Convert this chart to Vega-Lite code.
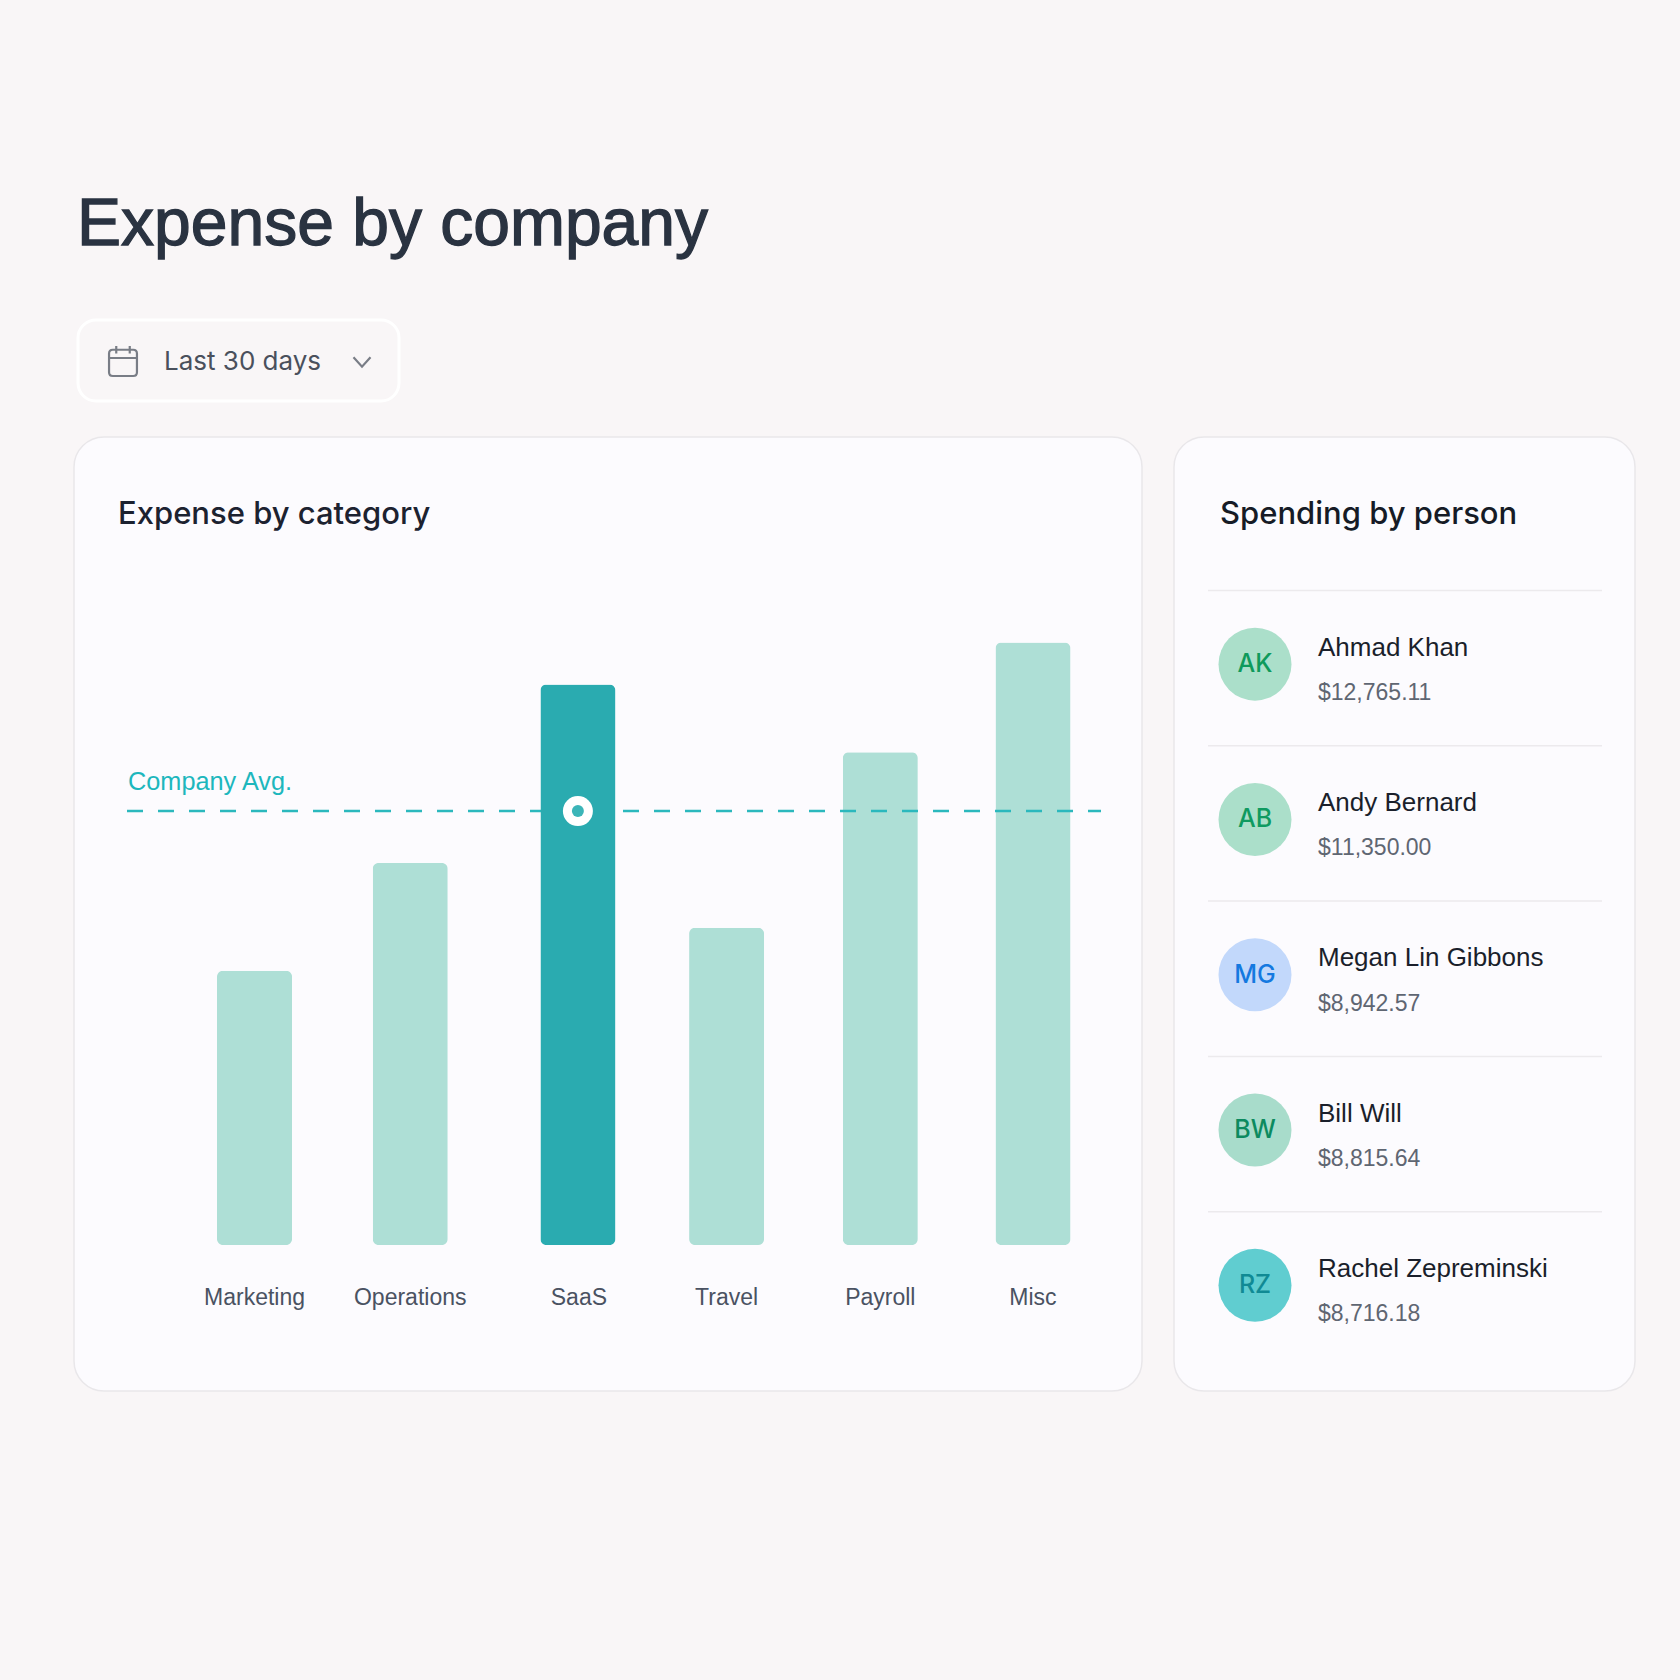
{
"$schema":"https://vega.github.io/schema/vega-lite/v6.json",
"background":"#f9f6f7",
"padding":{"left":73,"top":0,"right":45,"bottom":291},
"spacing":33,
"config":{"font":"Liberation Sans","axis":{"grid":false}},
"datasets":{
 "categories":[
  {"category":"Marketing","expense":27.5},
  {"category":"Operations","expense":38.3},
  {"category":"SaaS","expense":56.2},
  {"category":"Travel","expense":31.8},
  {"category":"Payroll","expense":49.4},
  {"category":"Misc","expense":60.4}
 ],
 "average":[{"label":"Company Avg.","category":"SaaS","expense":43.5}],
 "people":[
  {"person":"Ahmad Khan","initials":"AK","amount":"$12,765.11"},
  {"person":"Andy Bernard","initials":"AB","amount":"$11,350.00"},
  {"person":"Megan Lin Gibbons","initials":"MG","amount":"$8,942.57"},
  {"person":"Bill Will","initials":"BW","amount":"$8,815.64"},
  {"person":"Rachel Zepreminski","initials":"RZ","amount":"$8,716.18"}
 ]
},
"vconcat":[
 {
  "width":1562,"height":402,
  "view":{"stroke":null,"fill":null},
  "data":{"values":[{"heading":"Expense by company","filter":"Last 30 days"}]},
  "encoding":{
   "x":{"datum":0,"type":"quantitative","scale":{"domain":[0,1562],"range":[0,1562],"nice":false},"axis":null},
   "y":{"datum":0,"type":"quantitative","scale":{"domain":[0,402],"range":[0,402],"nice":false},"axis":null}
  },
  "layer":[
   {"mark":{"type":"text","align":"left","baseline":"alphabetic","fontSize":66,"stroke":"#2a3341","strokeWidth":1.3,"color":"#2a3341"},
    "encoding":{"x":{"datum":3},"y":{"datum":245},"text":{"field":"heading"}}},
   {"mark":{"type":"rect","fill":"#f9f6f7","stroke":"#ffffff","strokeWidth":3,"cornerRadius":18},
    "encoding":{"x":{"datum":4},"x2":{"datum":325},"y":{"datum":320},"y2":{"datum":401}}},
   {"mark":{"type":"point","filled":false,"stroke":"#444b57","strokeWidth":2.2,"size":900,"shape":"M-0.93 -0.5 Q-0.93 -0.75 -0.68 -0.75 H0.68 Q0.93 -0.75 0.93 -0.5 V0.75 Q0.93 1 0.68 1 H-0.68 Q-0.93 1 -0.93 0.75 Z M-0.93 -0.2 H0.93 M-0.45 -1 V-0.5 M0.45 -1 V-0.5"},
    "encoding":{"x":{"datum":49},"y":{"datum":361}}},
   {"mark":{"type":"text","align":"left","baseline":"alphabetic","font":"Inter","fontSize":26,"color":"#4a505c"},
    "encoding":{"x":{"datum":90},"y":{"datum":370},"text":{"field":"filter"}}},
   {"mark":{"type":"point","filled":false,"stroke":"#444b57","strokeWidth":2.2,"size":289,"shape":"M-1 -0.55 L0 0.55 L1 -0.55"},
    "encoding":{"x":{"datum":288},"y":{"datum":362}}}
  ]
 },
 {
  "spacing":30,
  "hconcat":[
   {
    "width":1068,"height":954,
    "view":{"stroke":"#e9e7ea","strokeWidth":1.5,"fill":"#fcfbfe","cornerRadius":30},
    "title":{"text":"Expense by category","anchor":"start","frame":"group","orient":"top","offset":-118,"dx":44,"baseline":"alphabetic","font":"Inter","fontSize":31,"fontWeight":500,"color":"#1c2230"},
    "resolve":{"scale":{"x":"independent"}},
    "layer":[
     {"data":{"name":"categories"},
      "transform":[{"filter":"datum.category !== 'SaaS'"}],
      "mark":{"type":"bar","color":"#aedfd6","cornerRadius":6,"xOffset":{"expr":"datum.category === 'Travel' ? 5 : datum.category === 'Payroll' ? 3 : 0"}},
      "encoding":{
       "x":{"field":"category","type":"nominal","sort":null,
        "scale":{"type":"band","domain":["Marketing","Operations","SaaS","Travel","Payroll","Misc"],"range":[143,996.5],"paddingInner":0.518,"paddingOuter":0},
        "axis":{"title":null,"orient":"bottom","offset":-146,"domain":false,"ticks":false,"labelAngle":0,"labelBaseline":"alphabetic","labelPadding":59,"labelFontSize":23,"labelFont":"Liberation Sans","labelColor":"#4a5262",
         "labelOffset":{"condition":[{"test":"datum.value === 'SaaS'","value":13},{"test":"datum.value === 'Travel'","value":5},{"test":"datum.value === 'Payroll'","value":3}],"value":0}}},
       "y":{"field":"expense","type":"quantitative","scale":{"domain":[0,81],"range":[808,0],"nice":false},"axis":null}
      }},
     {"data":{"name":"average"},
      "mark":{"type":"rule","color":"#2bb8bd","strokeWidth":2.4,"strokeDash":[16,15]},
      "encoding":{
       "x":{"datum":53,"type":"quantitative","scale":{"domain":[0,1068],"range":[0,1068],"nice":false},"axis":null},
       "x2":{"datum":1027},
       "y":{"field":"expense","type":"quantitative"}
      }},
     {"data":{"name":"average"},
      "mark":{"type":"text","align":"left","baseline":"alphabetic","fontSize":25.3,"color":"#1db7bd","yOffset":-21},
      "encoding":{
       "x":{"datum":54,"type":"quantitative","scale":{"domain":[0,1068],"range":[0,1068],"nice":false},"axis":null},
       "y":{"field":"expense","type":"quantitative"},
       "text":{"field":"label"}
      }},
     {"data":{"name":"categories"},
      "transform":[{"filter":"datum.category === 'SaaS'"}],
      "mark":{"type":"bar","color":"#2aabb0","cornerRadius":6,"xOffset":12},
      "encoding":{
       "x":{"field":"category","type":"nominal",
        "scale":{"type":"band","domain":["Marketing","Operations","SaaS","Travel","Payroll","Misc"],"range":[143,996.5],"paddingInner":0.518,"paddingOuter":0},"axis":null},
       "y":{"field":"expense","type":"quantitative"}
      }},
     {"data":{"name":"average"},
      "mark":{"type":"circle","color":"#ffffff","size":900,"opacity":1,"xOffset":12},
      "encoding":{
       "x":{"field":"category","type":"nominal",
        "scale":{"type":"band","domain":["Marketing","Operations","SaaS","Travel","Payroll","Misc"],"range":[143,996.5],"paddingInner":0.518,"paddingOuter":0},"axis":null},
       "y":{"field":"expense","type":"quantitative"}
      }},
     {"data":{"name":"average"},
      "mark":{"type":"circle","color":"#3bb5b8","size":144,"opacity":1,"xOffset":12},
      "encoding":{
       "x":{"field":"category","type":"nominal",
        "scale":{"type":"band","domain":["Marketing","Operations","SaaS","Travel","Payroll","Misc"],"range":[143,996.5],"paddingInner":0.518,"paddingOuter":0},"axis":null},
       "y":{"field":"expense","type":"quantitative"}
      }}
    ]
   },
   {
    "width":461,"height":954,
    "view":{"stroke":"#e9e7ea","strokeWidth":1.5,"fill":"#fcfbfe","cornerRadius":30},
    "title":{"text":"Spending by person","anchor":"start","frame":"group","orient":"top","offset":-118,"dx":46,"baseline":"alphabetic","font":"Inter","fontSize":31,"fontWeight":500,"color":"#161b26"},
    "data":{"name":"people"},
    "encoding":{
     "y":{"field":"person","type":"nominal","sort":null,"scale":{"type":"band","range":[153.5,930],"paddingInner":0,"paddingOuter":0},"axis":null},
     "x":{"datum":0,"type":"quantitative","scale":{"domain":[0,461],"range":[0,461],"nice":false},"axis":null}
    },
    "resolve":{"scale":{"color":"independent"}},
    "layer":[
     {"mark":{"type":"rule","color":"#eceaed","strokeWidth":1.5},
      "encoding":{"x":{"datum":34},"x2":{"datum":428},"y":{"field":"person","type":"nominal","sort":null,"bandPosition":0}}},
     {"mark":{"type":"circle","size":5329,"opacity":1,"yOffset":-4},
      "encoding":{"x":{"datum":81},
       "color":{"field":"initials","type":"nominal","legend":null,"scale":{"domain":["AK","AB","MG","BW","RZ"],"range":["#abdfca","#abdfca","#c2d8fb","#a8dccb","#60cdd0"]}}}},
     {"mark":{"type":"text","font":"Inter","fontSize":25,"fontWeight":500,"align":"center","baseline":"middle","yOffset":-4},
      "encoding":{"x":{"datum":81},"text":{"field":"initials"},
       "color":{"field":"initials","type":"nominal","legend":null,"scale":{"domain":["AK","AB","MG","BW","RZ"],"range":["#0f9a5c","#0f9a60","#1479e0","#0c8a5f","#108a94"]}}}},
     {"mark":{"type":"text","fontSize":26,"align":"left","baseline":"alphabetic","color":"#1a1f2b","yOffset":-12.5},
      "encoding":{"x":{"datum":144},"text":{"field":"person"}}},
     {"mark":{"type":"text","fontSize":23,"align":"left","baseline":"alphabetic","color":"#5f6672","yOffset":32},
      "encoding":{"x":{"datum":144},"text":{"field":"amount"}}}
    ]
   }
  ]
 }
]
}
